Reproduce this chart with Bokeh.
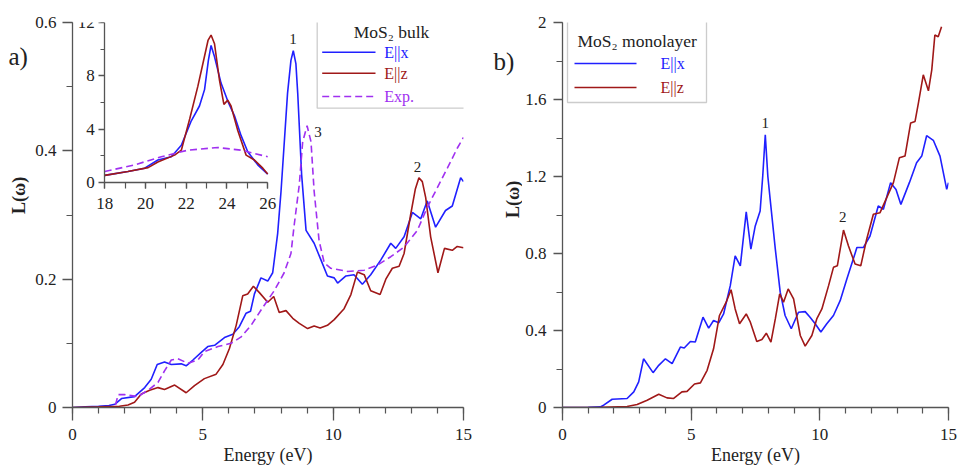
import math
from bokeh.plotting import figure
from bokeh.layouts import row
from bokeh.models import (Range1d, LinearAxis, FixedTicker, PrintfTickFormatter,
                          Label, BoxAnnotation, Arrow)
from bokeh.embed import file_html
from bokeh.resources import INLINE

# ---------------- data: MoS2 bulk (panel a) ----------------
bulk_x_energy = [0, 0.5, 1.0, 1.4, 1.62, 1.88, 2.38, 2.77, 3.02, 3.25, 3.53, 3.79, 4.17, 4.36,
                 4.62, 4.94, 5.19, 5.45, 5.83, 6.15, 6.40, 6.66, 6.83, 6.98, 7.23, 7.49, 7.68,
                 7.87, 8.0, 8.25, 8.38, 8.47, 8.57, 8.64, 8.79, 8.96, 9.27, 9.53, 9.78, 10.04,
                 10.17, 10.49, 10.8, 11.12, 11.44, 11.83, 12.21, 12.4, 12.72, 13.04, 13.36,
                 13.61, 13.93, 14.31, 14.57, 14.89, 15.0]
bulk_x_loss = [0, 0.001, 0.002, 0.003, 0.005, 0.014, 0.017, 0.031, 0.044, 0.067, 0.071, 0.067,
               0.068, 0.065, 0.074, 0.086, 0.095, 0.097, 0.109, 0.114, 0.126, 0.147, 0.150,
               0.177, 0.202, 0.197, 0.21, 0.271, 0.337, 0.49, 0.541, 0.556, 0.536, 0.49, 0.363,
               0.276, 0.256, 0.23, 0.205, 0.202, 0.194, 0.205, 0.207, 0.192, 0.207, 0.23, 0.256,
               0.248, 0.266, 0.304, 0.294, 0.322, 0.281, 0.307, 0.314, 0.358, 0.352]

bulk_z_energy = [0, 1.0, 1.8, 2.13, 2.38, 2.64, 2.96, 3.28, 3.53, 3.92, 4.36, 4.68, 5.06, 5.51,
                 5.77, 6.02, 6.28, 6.53, 6.72, 6.94, 7.17, 7.49, 7.72, 7.93, 8.19, 8.45, 8.7,
                 9.02, 9.27, 9.5, 9.78, 10.04, 10.42, 10.68, 10.93, 11.19, 11.44, 11.8, 12.02,
                 12.27, 12.53, 12.72, 12.97, 13.15, 13.29, 13.42, 13.55, 13.74, 14.02, 14.27,
                 14.57, 14.76, 15.0]
bulk_z_loss = [0, 0.001, 0.002, 0.004, 0.008, 0.021, 0.027, 0.031, 0.028, 0.035, 0.023, 0.034,
               0.045, 0.052, 0.067, 0.092, 0.128, 0.174, 0.177, 0.189, 0.179, 0.164, 0.173,
               0.148, 0.151, 0.139, 0.131, 0.123, 0.127, 0.124, 0.128, 0.137, 0.154, 0.176,
               0.211, 0.207, 0.182, 0.176, 0.2, 0.217, 0.22, 0.24, 0.30, 0.34, 0.358, 0.352,
               0.327, 0.266, 0.21, 0.248, 0.245, 0.251, 0.249]

bulk_exp_energy = [1.65, 1.75, 2.0, 2.51, 2.9, 3.28, 3.53, 3.79, 4.04, 4.43, 4.81, 5.06, 5.58,
                   6.08, 6.47, 6.85, 7.3, 7.74, 8.12, 8.38, 8.51, 8.7, 8.83, 9.0, 9.15, 9.27,
                   9.46, 9.66, 9.91, 10.55, 11.19, 11.7, 12.21, 12.72, 13.23, 13.61, 13.99,
                   14.38, 14.76, 15.0]
bulk_exp_loss = [0.004, 0.02, 0.02, 0.017, 0.027, 0.039, 0.057, 0.074, 0.076, 0.069, 0.074,
                 0.087, 0.095, 0.1, 0.11, 0.128, 0.156, 0.182, 0.21, 0.24, 0.286, 0.347, 0.414,
                 0.439, 0.414, 0.337, 0.26, 0.225, 0.217, 0.212, 0.214, 0.222, 0.235, 0.25,
                 0.276, 0.312, 0.342, 0.373, 0.404, 0.421]

# inset (18-26 eV)
inset_x_energy = [18, 19.14, 19.96, 20.61, 21.27, 21.76, 22.25, 22.65, 22.9, 23.09, 23.22, 23.39,
                  23.71, 24.04, 24.37, 24.69, 25.02, 25.51, 26.0]
inset_x_loss = [0.52, 0.81, 1.06, 1.67, 1.92, 2.78, 4.62, 5.73, 6.96, 9.17, 10.28, 9.42, 7.45,
                6.1, 4.99, 3.52, 2.29, 1.31, 0.62]
inset_z_energy = [18, 19.14, 20.13, 20.61, 21.43, 21.76, 22.17, 22.57, 22.82, 23.07, 23.22,
                  23.39, 23.63, 23.85, 24.04, 24.2, 24.53, 24.94, 25.35, 25.76, 26.0]
inset_z_loss = [0.52, 0.81, 1.1, 1.52, 2.04, 2.41, 4.75, 7.2, 8.92, 10.65, 11.06, 10.4, 7.7,
                5.85, 6.17, 5.73, 3.89, 2.04, 1.67, 1.06, 0.62]
inset_exp_energy = [18, 19.47, 20.78, 22.08, 23.55, 24.69, 26.0]
inset_exp_loss = [0.81, 1.31, 1.92, 2.41, 2.61, 2.41, 1.92]

# ---------------- data: MoS2 monolayer (panel b) ----------------
mono_x_energy = [0, 1.0, 1.47, 1.6, 1.93, 2.51, 2.77, 2.96, 3.15, 3.52, 3.74, 4.0, 4.26, 4.58,
                 4.73, 4.97, 5.16, 5.46, 5.68, 5.87, 6.07, 6.26, 6.52, 6.71, 6.91, 7.14, 7.32,
                 7.49, 7.68, 7.78, 7.88, 7.98, 8.07, 8.27, 8.46, 8.65, 8.89, 9.17, 9.43, 9.62,
                 9.82, 10.04, 10.27, 10.53, 10.79, 11.05, 11.3, 11.44, 11.69, 11.95, 12.27,
                 12.47, 12.75, 12.96, 13.15, 13.48, 13.76, 13.96, 14.15, 14.41, 14.67, 14.93,
                 15.0]
mono_x_loss = [0, 0.001, 0.003, 0.012, 0.043, 0.047, 0.081, 0.133, 0.253, 0.181, 0.219, 0.253,
               0.228, 0.314, 0.309, 0.343, 0.34, 0.469, 0.412, 0.452, 0.44, 0.486, 0.633, 0.788,
               0.736, 1.016, 0.823, 0.943, 1.021, 1.2, 1.417, 1.2, 1.081, 0.823, 0.599, 0.478,
               0.409, 0.495, 0.498, 0.469, 0.435, 0.392, 0.435, 0.478, 0.555, 0.667, 0.771,
               0.831, 0.831, 0.891, 1.047, 1.03, 1.168, 1.133, 1.055, 1.168, 1.271, 1.306,
               1.412, 1.388, 1.306, 1.133, 1.168]

mono_z_energy = [0, 1.5, 2.51, 2.9, 3.29, 3.74, 4.06, 4.32, 4.64, 4.84, 5.13, 5.36, 5.62, 5.87,
                 6.1, 6.36, 6.55, 6.71, 6.88, 7.14, 7.3, 7.55, 7.75, 7.92, 8.1, 8.27, 8.44,
                 8.59, 8.77, 8.98, 9.24, 9.43, 9.69, 9.88, 10.08, 10.34, 10.53, 10.68, 10.92,
                 11.11, 11.37, 11.59, 11.82, 12.08, 12.34, 12.6, 12.86, 13.09, 13.31, 13.53,
                 13.7, 13.83, 14.02, 14.22, 14.35, 14.47, 14.6, 14.73]
mono_z_loss = [0, 0.001, 0.005, 0.016, 0.038, 0.069, 0.05, 0.047, 0.081, 0.084, 0.122, 0.128,
               0.193, 0.305, 0.478, 0.547, 0.612, 0.512, 0.435, 0.486, 0.443, 0.343, 0.353,
               0.386, 0.34, 0.46, 0.59, 0.547, 0.616, 0.564, 0.374, 0.319, 0.374, 0.46, 0.512,
               0.633, 0.728, 0.736, 0.922, 0.84, 0.745, 0.736, 0.874, 1.004, 1.012, 1.09, 1.168,
               1.297, 1.306, 1.478, 1.486, 1.581, 1.728, 1.645, 1.754, 1.935, 1.926, 1.978]

# tick values
x_major = [0, 5, 10, 15]
x_minor = list(range(0, 16))
a_y_major = [0, 0.2, 0.4, 0.6]
a_y_minor = [0, 0.1, 0.2, 0.3, 0.4, 0.5, 0.6]
b_y_major = [0, 0.4, 0.8, 1.2, 1.6, 2.0]
b_y_minor = [0, 0.2, 0.4, 0.6, 0.8, 1.0, 1.2, 1.4, 1.6, 1.8, 2.0]
in_x_major = [18, 20, 22, 24, 26]
in_x_minor = list(range(18, 27))
in_y_major = [0, 4, 8, 12]
in_y_minor = [0, 2, 4, 6, 8, 10, 12]

# ---------------- styles ----------------
FONT = "Liberation Serif"
BLUE = "#2020ff"
RED = "#a01818"
PURPLE = "#a030f0"
AXC = "#555555"
TXT = "#222222"
LW = 1.6
DASH = "7 4"
H = 470


def style_axis(ax, ticker, tick_out, minor_out, standoff, label_size="17px"):
    ax.ticker = ticker
    ax.formatter = PrintfTickFormatter(format="%g")
    ax.axis_line_color = AXC
    ax.axis_line_width = 1.3
    ax.major_tick_line_color = AXC
    ax.major_tick_line_width = 1.3
    ax.minor_tick_line_color = AXC
    ax.minor_tick_line_width = 1.2
    ax.major_tick_in = 0
    ax.major_tick_out = tick_out
    ax.minor_tick_in = 0
    ax.minor_tick_out = minor_out
    ax.major_label_standoff = standoff
    ax.major_label_text_font = FONT
    ax.major_label_text_font_size = label_size
    ax.major_label_text_color = TXT
    ax.axis_label_text_font = FONT
    ax.axis_label_text_color = TXT


def make_fig(w, xr, yr, fl, fr, ft, fb):
    p = figure(width=w, height=H, x_range=xr, y_range=yr,
               output_backend="svg", toolbar_location=None,
               min_border_left=fl, min_border_right=w - fr,
               min_border_top=ft, min_border_bottom=H - fb)
    p.outline_line_color = None
    p.xgrid.visible = False
    p.ygrid.visible = False
    p.background_fill_color = "white"
    p.border_fill_color = "white"
    return p


def tag_strip(w, tag, tag_xy, ylabel_xy):
    """Narrow strip left of a panel: panel letter and the rotated y-axis title."""
    p = figure(width=w, height=H, x_range=Range1d(0, w), y_range=Range1d(0, H),
               output_backend="svg", toolbar_location=None,
               x_axis_location=None, y_axis_location=None,
               min_border_left=0, min_border_right=0, min_border_top=0, min_border_bottom=0)
    p.outline_line_color = None
    p.xgrid.visible = False
    p.ygrid.visible = False
    p.background_fill_color = "white"
    p.border_fill_color = "white"
    p.add_layout(Label(x=tag_xy[0], y=H - tag_xy[1], text=tag, text_font=FONT,
                       text_font_size="25px", text_color=TXT,
                       text_align="left", text_baseline="middle"))
    p.add_layout(Label(x=ylabel_xy[0], y=H - ylabel_xy[1], text="L(ω)", text_font=FONT,
                       text_font_size="18px", text_font_style="bold", text_color=TXT,
                       angle=math.pi / 2, text_align="center", text_baseline="middle"))
    return p


def scr(cx, cy, fl, fb):
    return cx - fl, fb - cy


def add_legend(p, fl, fb, box, title, title_pos, items, label_x, line_x):
    l, t, r, b = box
    sl, st = scr(l, t, fl, fb)
    sr, sb = scr(r, b, fl, fb)
    p.add_layout(BoxAnnotation(left=sl, right=sr, top=st, bottom=sb,
                               left_units="screen", right_units="screen",
                               top_units="screen", bottom_units="screen",
                               fill_color="white", fill_alpha=1.0,
                               line_color=AXC, line_width=1.3, level="overlay"))
    tx, ty = scr(title_pos[0], title_pos[1], fl, fb)
    p.add_layout(Label(x=tx, y=ty, x_units="screen", y_units="screen", text=title,
                       text_font=FONT, text_font_size="17.5px", text_color=TXT,
                       text_align="center", text_baseline="middle", level="overlay"))
    for text, color, dash, cy in items:
        x0, y0 = scr(line_x[0], cy, fl, fb)
        x1, _ = scr(line_x[1], cy, fl, fb)
        p.add_layout(Arrow(x_start=x0, y_start=y0, x_end=x1, y_end=y0,
                           start_units="screen", end_units="screen", start=None, end=None,
                           line_color=color, line_width=LW, line_dash=dash, level="overlay"))
        lx, ly = scr(label_x, cy, fl, fb)
        p.add_layout(Label(x=lx, y=ly, x_units="screen", y_units="screen", text=text,
                           text_font=FONT, text_font_size="16px", text_color=color,
                           text_align="left", text_baseline="middle", level="overlay"))


# ================= panel a =================
TA_W = 32                                   # strip width (canvas px 0..32)
A_W = 480 - TA_W
A_FL, A_FR, A_FT, A_FB = 71 - TA_W, 463 - TA_W, 15, 407   # frame inside panel-a figure
ta = tag_strip(TA_W, "a)", (8, 42), (18.5, 211))

pa = make_fig(A_W, Range1d(0, 15), Range1d(0, 0.6), A_FL, A_FR, A_FT, A_FB)
style_axis(pa.xaxis[0], FixedTicker(ticks=x_major, minor_ticks=x_minor), 13, 6, 8)
style_axis(pa.yaxis[0], FixedTicker(ticks=a_y_major, minor_ticks=a_y_minor), 10, 6, 6)
pa.xaxis[0].axis_label = "Energy (eV)"
pa.xaxis[0].axis_label_text_font_size = "18px"
pa.xaxis[0].axis_label_text_font_style = "normal"
pa.xaxis[0].axis_label_standoff = 2

pa.line(bulk_x_energy, bulk_x_loss, line_color=BLUE, line_width=LW)
pa.line(bulk_z_energy, bulk_z_loss, line_color=RED, line_width=LW)
pa.line(bulk_exp_energy, bulk_exp_loss, line_color=PURPLE, line_width=LW, line_dash=DASH)

# inset via extra ranges mapped onto a sub-rectangle of the frame (canvas px)
IN_L, IN_R, IN_T, IN_B = 103.3 - TA_W, 266.7 - TA_W, 15.0, 177.7
ix_scale = (IN_R - IN_L) / (in_x_major[-1] - in_x_major[0])
iy_scale = (IN_B - IN_T) / (in_y_major[-1] - in_y_major[0])
ix0 = in_x_major[0] - (IN_L - A_FL) / ix_scale
ix1 = in_x_major[0] + (A_FR - IN_L) / ix_scale
iy1 = in_y_major[-1] + (IN_T - A_FT) / iy_scale
iy0 = in_y_major[0] - (A_FB - IN_B) / iy_scale
pa.extra_x_ranges = {"ix": Range1d(ix0, ix1)}
pa.extra_y_ranges = {"iy": Range1d(iy0, iy1)}

iax_y = LinearAxis(x_range_name="ix", y_range_name="iy", fixed_location=in_x_major[0],
                   bounds=(in_y_major[0], in_y_major[-1]))
style_axis(iax_y, FixedTicker(ticks=in_y_major, minor_ticks=in_y_minor), 6, 4, 4)
pa.add_layout(iax_y, "left")
iax_x = LinearAxis(x_range_name="ix", y_range_name="iy", fixed_location=in_y_major[0],
                   bounds=(in_x_major[0], in_x_major[-1]))
style_axis(iax_x, FixedTicker(ticks=in_x_major, minor_ticks=in_x_minor), 6, 6, 10)
pa.add_layout(iax_x, "below")

pa.line(inset_x_energy, inset_x_loss, line_color=BLUE, line_width=LW,
        x_range_name="ix", y_range_name="iy")
pa.line(inset_z_energy, inset_z_loss, line_color=RED, line_width=LW,
        x_range_name="ix", y_range_name="iy")
pa.line(inset_exp_energy, inset_exp_loss, line_color=PURPLE, line_width=LW, line_dash=DASH,
        x_range_name="ix", y_range_name="iy")

for txt, x, y in [("1", 8.46, 0.574), ("3", 9.42, 0.43), ("2", 13.24, 0.375)]:
    pa.add_layout(Label(x=x, y=y, text=txt, text_font=FONT, text_font_size="15px",
                        text_color=TXT, text_align="center", text_baseline="middle"))

add_legend(pa, A_FL, A_FB, (315.7 - TA_W, 15, 464 - TA_W, 107.7), "MoS\u2082 bulk",
           (390 - TA_W, 31),
           [("E||x", BLUE, "solid", 51.7), ("E||z", RED, "solid", 72.7),
            ("Exp.", PURPLE, DASH, 96)],
           label_x=382.7 - TA_W, line_x=(320.7 - TA_W, 374 - TA_W))

# ================= panel b =================
TB_X0 = 480                                  # strip starts at canvas x 480
TB_W = 42
B_OFF = TB_X0 + TB_W                         # panel-b figure starts at canvas x 522
B_W = 960 - B_OFF
B_FL, B_FR, B_FT, B_FB = 562 - B_OFF, 948 - B_OFF, 22, 409
tb = tag_strip(TB_W, "b)", (493 - TB_X0, 47), (512 - TB_X0, 216))

pb = make_fig(B_W, Range1d(0, 15), Range1d(0, 2), B_FL, B_FR, B_FT, B_FB)
style_axis(pb.xaxis[0], FixedTicker(ticks=x_major, minor_ticks=x_minor), 13, 6, 8)
style_axis(pb.yaxis[0], FixedTicker(ticks=b_y_major, minor_ticks=b_y_minor), 9, 6, 7)
pb.xaxis[0].axis_label = "Energy (eV)"
pb.xaxis[0].axis_label_text_font_size = "18px"
pb.xaxis[0].axis_label_text_font_style = "normal"
pb.xaxis[0].axis_label_standoff = 2

pb.line(mono_x_energy, mono_x_loss, line_color=BLUE, line_width=LW)
pb.line(mono_z_energy, mono_z_loss, line_color=RED, line_width=LW)

for txt, x, y in [("1", 7.88, 1.48), ("2", 10.89, 0.988)]:
    pb.add_layout(Label(x=x, y=y, text=txt, text_font=FONT, text_font_size="15px",
                        text_color=TXT, text_align="center", text_baseline="middle"))

add_legend(pb, B_FL, B_FB, (567 - B_OFF, 22.7, 706 - B_OFF, 104), "MoS\u2082 monolayer",
           (636.7 - B_OFF, 42),
           [("E||x", BLUE, "solid", 65), ("E||z", RED, "solid", 89)],
           label_x=660 - B_OFF, line_x=(574 - B_OFF, 636 - B_OFF))

layout = row(ta, pa, tb, pb)
open("out.html", "w").write(file_html(layout, INLINE))
